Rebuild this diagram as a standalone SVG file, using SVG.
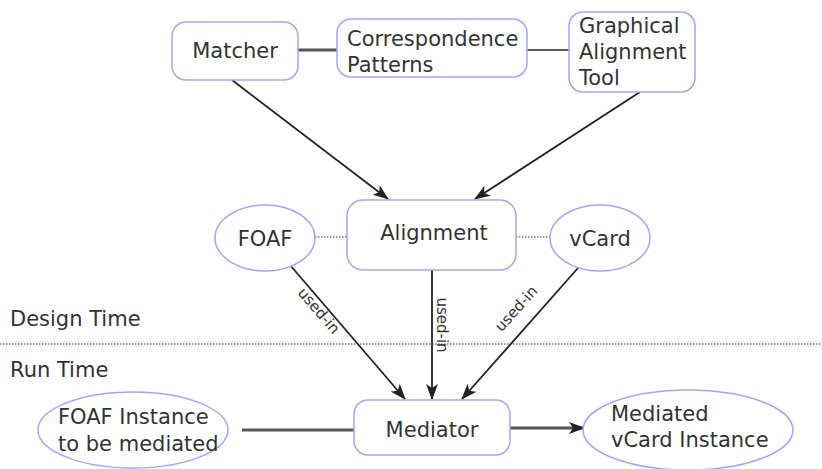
<svg xmlns="http://www.w3.org/2000/svg" width="822" height="469" viewBox="0 0 822 469">
  <style>
    .node { fill: #ffffff; stroke: #a4a4ff; stroke-width: 1.5; }
    .lbl { font-family: "DejaVu Sans", sans-serif; font-size: 21px; fill: #333333; }
    .small { font-family: "DejaVu Sans", sans-serif; font-size: 15px; fill: #333333; }
    .edge { stroke: #222222; stroke-width: 1.8; fill: none; }
    .thick { stroke: #555555; stroke-width: 3; fill: none; }
    .dot { stroke: #333333; stroke-width: 1.2; stroke-dasharray: 1.5 1.5; fill: none; }
  </style>
  <defs>
    <marker id="arrow" viewBox="0 0 16 12" refX="15" refY="6" markerWidth="16" markerHeight="12" markerUnits="userSpaceOnUse" orient="auto">
      <path d="M0,0 L16,6 L0,12 L4,6 Z" fill="#222222"/>
    </marker>
  </defs>

  <rect width="822" height="469" fill="#ffffff"/>

  <!-- phase divider and labels -->
  <line x1="0" y1="344" x2="822" y2="344" class="dot"/>
  <text x="10" y="326" class="lbl">Design Time</text>
  <text x="10" y="377" class="lbl">Run Time</text>

  <g id="connectors">
    <line x1="298" y1="50" x2="337" y2="50" class="thick"/>
    <line x1="527" y1="50" x2="570" y2="50" stroke="#222" stroke-width="1.5"/>
    <line x1="232" y1="80" x2="388" y2="199" class="edge" marker-end="url(#arrow)"/>
    <line x1="640" y1="92" x2="475" y2="199" class="edge" marker-end="url(#arrow)"/>
    <line x1="315" y1="237" x2="347" y2="237" class="dot"/>
    <line x1="516" y1="237" x2="550" y2="237" class="dot"/>
    <line x1="290" y1="265" x2="405" y2="399" class="edge" marker-end="url(#arrow)"/>
    <line x1="432" y1="270" x2="432" y2="399" class="edge" marker-end="url(#arrow)"/>
    <line x1="578" y1="268" x2="462" y2="399" class="edge" marker-end="url(#arrow)"/>
    <line x1="242" y1="430" x2="354" y2="430" class="thick"/>
    <line x1="510" y1="428" x2="584" y2="428" class="thick" marker-end="url(#arrow)"/>
    <text class="small" transform="translate(315,314) rotate(49)" text-anchor="middle">used-in</text>
    <text class="small" transform="translate(437,325) rotate(90)" text-anchor="middle">used-in</text>
    <text class="small" transform="translate(520,312) rotate(-48)" text-anchor="middle">used-in</text>
  </g>

  <g id="matcher">
    <rect x="172" y="22" width="126" height="58" rx="14" class="node"/>
    <text x="235" y="58" class="lbl" text-anchor="middle">Matcher</text>
  </g>
  <g id="correspondence-patterns">
    <rect x="337" y="19" width="190" height="58" rx="14" class="node"/>
    <text x="347" y="46" class="lbl">Correspondence</text>
    <text x="347" y="72" class="lbl">Patterns</text>
  </g>
  <g id="graphical-alignment-tool">
    <rect x="569" y="12" width="126" height="80" rx="14" class="node"/>
    <text x="579" y="33" class="lbl">Graphical</text>
    <text x="579" y="59" class="lbl">Alignment</text>
    <text x="579" y="85" class="lbl">Tool</text>
  </g>
  <g id="alignment">
    <rect x="347" y="200" width="169" height="70" rx="16" class="node"/>
    <text x="434" y="240" class="lbl" text-anchor="middle">Alignment</text>
  </g>
  <g id="foaf">
    <ellipse cx="265" cy="238" rx="50" ry="33" class="node"/>
    <text x="265" y="246" class="lbl" text-anchor="middle">FOAF</text>
  </g>
  <g id="vcard">
    <ellipse cx="600" cy="238" rx="50" ry="33" class="node"/>
    <text x="600" y="246" class="lbl" text-anchor="middle">vCard</text>
  </g>
  <g id="mediator">
    <rect x="354" y="400" width="156" height="55" rx="14" class="node"/>
    <text x="432" y="437" class="lbl" text-anchor="middle">Mediator</text>
  </g>
  <g id="foaf-instance">
    <ellipse cx="133" cy="430" rx="95" ry="38" class="node"/>
    <text x="58" y="424" class="lbl">FOAF Instance</text>
    <text x="58" y="451" class="lbl">to be mediated</text>
  </g>
  <g id="mediated-vcard-instance">
    <ellipse cx="688" cy="430" rx="105" ry="40" class="node"/>
    <text x="611" y="421" class="lbl">Mediated</text>
    <text x="611" y="447" class="lbl">vCard Instance</text>
  </g>
</svg>
